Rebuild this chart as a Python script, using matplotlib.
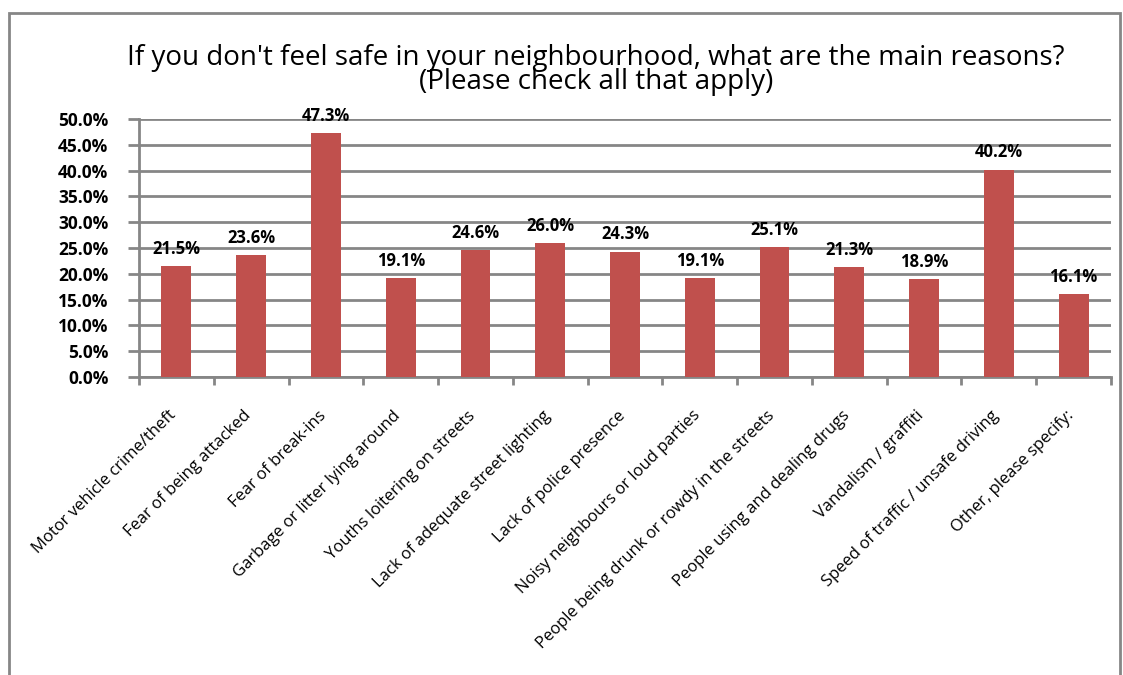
import matplotlib.pyplot as plt
from matplotlib.patches import Rectangle
from matplotlib.ticker import MultipleLocator, FuncFormatter
from matplotlib.transforms import ScaledTranslation

categories = [
    'Motor vehicle crime/theft',
    'Fear of being attacked',
    'Fear of break-ins',
    'Garbage or litter lying around',
    'Youths loitering on streets',
    'Lack of adequate street lighting',
    'Lack of police presence',
    'Noisy neighbours or loud parties',
    'People being drunk or rowdy in the streets',
    'People using and dealing drugs',
    'Vandalism / graffiti',
    'Speed of traffic / unsafe driving',
    'Other, please specify:',
]
percent = [21.5, 23.6, 47.3, 19.1, 24.6, 26.0, 24.3, 19.1, 25.1, 21.3, 18.9, 40.2, 16.1]

bar_color = '#C0504D'
grid_color = '#868686'
font = 'Open Sans'

plt.rcParams['font.family'] = [font, 'DejaVu Sans']

fig = plt.figure(figsize=(11.23, 6.75), dpi=100)
W, H = 1123, 675

# chart frame (grey border as in a spreadsheet chart object)
fig.patches.append(Rectangle((9 / W, -0.1), (1120 - 9) / W, 1.1 - 13 / H,
                             transform=fig.transFigure, fill=False,
                             edgecolor=grid_color, linewidth=2))

left, right, top, bottom = 139, 1111, 119, 377
ax = fig.add_axes([left / W, 1 - bottom / H, (right - left) / W, (bottom - top) / H])

x = list(range(len(categories)))
ax.bar(x, percent, width=0.4, color=bar_color, zorder=3)
ax.set_xlim(-0.5, len(categories) - 0.5)
ax.set_ylim(0, 50)

ax.yaxis.set_major_locator(MultipleLocator(5))
ax.yaxis.set_major_formatter(FuncFormatter(lambda v, p: f'{v:.1f}%'))
ax.grid(axis='y', color=grid_color, linewidth=2, zorder=0)
ax.set_axisbelow(True)

for side in ['top', 'right']:
    ax.spines[side].set_visible(False)
for side in ['left', 'bottom']:
    ax.spines[side].set_color(grid_color)
    ax.spines[side].set_linewidth(2)

# ticks between categories on x, labels at category centres
ax.set_xticks([i - 0.5 for i in range(len(categories) + 1)])
ax.set_xticklabels([])
ax.set_xticks(x, minor=True)
ax.set_xticklabels(categories, minor=True, rotation=45, ha='right',
                   rotation_mode='anchor', fontsize=12)
ax.tick_params(axis='x', which='major', direction='out', length=6, width=2, color=grid_color)
ax.tick_params(axis='x', which='minor', length=0, pad=22)
shift = ScaledTranslation(-8 / 100, 0, fig.dpi_scale_trans)
for lbl in ax.get_xticklabels(minor=True):
    lbl.set_transform(lbl.get_transform() + shift)
ax.tick_params(axis='y', direction='out', length=8, width=2, color=grid_color, pad=14)
for lbl in ax.get_yticklabels():
    lbl.set_fontweight('bold')
    lbl.set_fontsize(12.5)

for xi, v in zip(x, percent):
    ax.annotate(f'{v:.1f}%', (xi, v), xytext=(0, 6), textcoords='offset points',
                ha='center', va='bottom', fontsize=12, fontweight='bold',
                annotation_clip=False, zorder=5)

fig.text(596 / W, 1 - 70 / H,
         "If you don't feel safe in your neighbourhood, what are the main reasons?\n"
         "(Please check all that apply)",
         ha='center', va='center', multialignment='center', fontsize=20, linespacing=0.78)

fig.savefig('out.png', dpi=100, facecolor='white')
